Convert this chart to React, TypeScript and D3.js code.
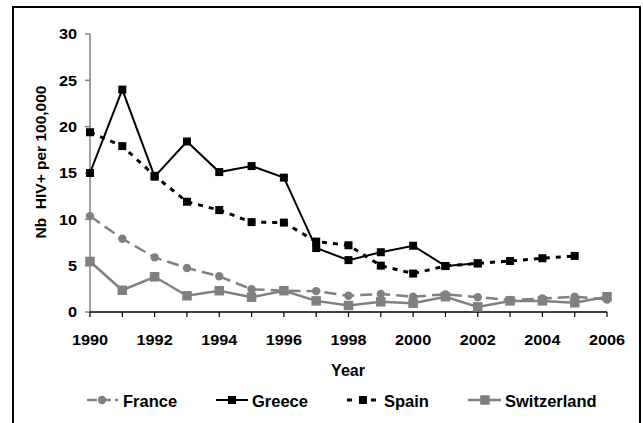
import React from "react";
import * as d3 from "d3";

const years = [1990, 1991, 1992, 1993, 1994, 1995, 1996, 1997, 1998, 1999, 2000, 2001, 2002, 2003, 2004, 2005, 2006];
const france = [10.35, 7.9, 5.9, 4.75, 3.85, 2.45, 2.3, 2.25, 1.75, 1.95, 1.65, 1.9, 1.6, 1.3, 1.45, 1.65, 1.35];
const greece = [15, 24, 14.6, 18.4, 15.1, 15.75, 14.5, 6.9, 5.6, 6.45, 7.15, 4.96, 5.25];
const spain = [19.4, 17.9, 14.7, 11.9, 11.0, 9.7, 9.65, 7.6, 7.2, 5.0, 4.15, 4.96, 5.25, 5.5, 5.8, 6.05];
const switzerland = [5.45, 2.35, 3.8, 1.75, 2.3, 1.6, 2.3, 1.2, 0.7, 1.1, 0.95, 1.65, 0.55, 1.2, 1.2, 1.0, 1.65];
const yTicks = [0, 5, 10, 15, 20, 25, 30];
const xLabels = [1990, 1992, 1994, 1996, 1998, 2000, 2002, 2004, 2006];

const GREY = "#808080";
const FONT = "'Liberation Sans', Arial, sans-serif";

export default function App() {
  const x = d3.scaleLinear().domain([1990, 2006]).range([90, 607]);
  const y = d3.scaleLinear().domain([0, 30]).range([312, 34]);
  const mk = (vals: number[]) =>
    d3.line<number>().x((_, i) => x(years[i])).y((v) => y(v))(vals) || "";

  const sq = (cx: number, cy: number, s: number, fill: string, key: string) => (
    <rect key={key} x={cx - s / 2} y={cy - s / 2} width={s} height={s} fill={fill} />
  );

  const tickText = (tx: number, ty: number, txt: string, anchor: string, key: string) => (
    <text key={key} transform={`translate(${tx},${ty}) scale(1.12,1)`} textAnchor={anchor}
      dominantBaseline="central" fontFamily={FONT} fontWeight="bold" fontSize={14.5} fill="#000">{txt}</text>
  );

  return (
    <svg width={643} height={423} style={{ position: "absolute", left: 0, top: 0 }}>
      <rect x={0} y={0} width={643} height={423} fill="#fff" />
      <rect x={13} y={7} width={627} height={430} fill="none" stroke="#000" strokeWidth={2} />

      {/* y axis */}
      <line x1={90} x2={90} y1={y(30)} y2={y(0)} stroke={GREY} strokeWidth={1.5} />
      {yTicks.map((t) => (
        <g key={"yt" + t}>
          <line x1={85} x2={90} y1={y(t)} y2={y(t)} stroke={GREY} strokeWidth={1.5} />
          {tickText(77, y(t), String(t), "end", "ytl" + t)}
        </g>
      ))}
      {/* x axis */}
      <line x1={x(1990)} x2={x(2006)} y1={y(0)} y2={y(0)} stroke="#000" strokeWidth={1.5} />
      {years.map((yr) => (
        <line key={"xt" + yr} x1={x(yr)} x2={x(yr)} y1={y(0)} y2={y(0) + 5} stroke="#000" strokeWidth={1.2} />
      ))}
      {xLabels.map((yr) => tickText(x(yr), 340, String(yr), "middle", "xl" + yr))}

      <text x={348} y={370} textAnchor="middle" dominantBaseline="central" fontFamily={FONT}
        fontWeight="bold" fontSize={16}>Year</text>
      <text transform={`translate(40,162) rotate(-90)`} textAnchor="middle" dominantBaseline="central"
        fontFamily={FONT} fontWeight="bold" fontSize={15.5} style={{ whiteSpace: "pre" }}>{"Nb  HIV+ per 100,000"}</text>

      {/* France */}
      <path d={mk(france)} fill="none" stroke={GREY} strokeWidth={2.5} strokeDasharray="12,6" />
      {france.map((v, i) => <circle key={"fr" + i} cx={x(years[i])} cy={y(v)} r={4.2} fill={GREY} />)}
      {/* Greece */}
      <path d={mk(greece)} fill="none" stroke="#000" strokeWidth={2} />
      {greece.map((v, i) => sq(x(years[i]), y(v), 8, "#000", "gr" + i))}
      {/* Spain */}
      <path d={mk(spain)} fill="none" stroke="#000" strokeWidth={3} strokeDasharray="5,6" />
      {spain.map((v, i) => sq(x(years[i]), y(v), 8, "#000", "sp" + i))}
      {/* Switzerland */}
      <path d={mk(switzerland)} fill="none" stroke={GREY} strokeWidth={2.5} />
      {switzerland.map((v, i) => sq(x(years[i]), y(v), 9.5, GREY, "sw" + i))}

      {/* Legend */}
      <g fontFamily={FONT} fontWeight="bold" fontSize={16.5}>
        <line x1={87} x2={118} y1={400} y2={400} stroke={GREY} strokeWidth={2.5} strokeDasharray="10,4" />
        <circle cx={102} cy={400} r={4.2} fill={GREY} />
        <text x={123} y={401} dominantBaseline="central">France</text>

        <line x1={216} x2={248} y1={400} y2={400} stroke="#000" strokeWidth={2} />
        {sq(232, 400, 8, "#000", "lg")}
        <text x={252} y={401} dominantBaseline="central">Greece</text>

        <line x1={347} x2={378} y1={400} y2={400} stroke="#000" strokeWidth={3} strokeDasharray="5,7" />
        {sq(363, 400, 8, "#000", "ls")}
        <text x={384} y={401} dominantBaseline="central">Spain</text>

        <line x1={468} x2={501} y1={400} y2={400} stroke={GREY} strokeWidth={2.5} />
        {sq(485, 400, 9.5, GREY, "lw")}
        <text x={505} y={401} dominantBaseline="central">Switzerland</text>
      </g>
    </svg>
  );
}
